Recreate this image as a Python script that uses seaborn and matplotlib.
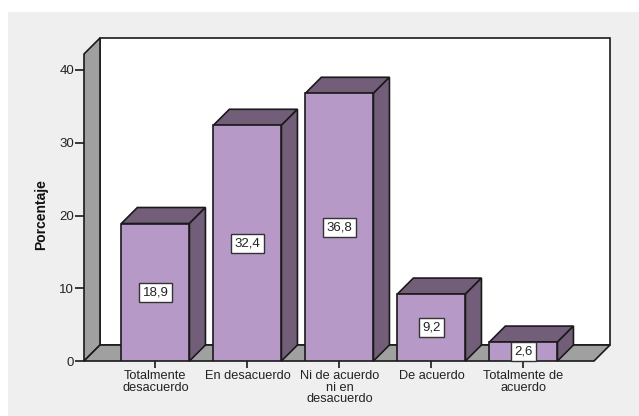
import matplotlib
matplotlib.use('Agg')
import matplotlib.pyplot as plt
from matplotlib.patches import Polygon, Rectangle
import pandas as pd
import seaborn as sns

categorias = ['Totalmente\ndesacuerdo', 'En desacuerdo', 'Ni de acuerdo\nni en\ndesacuerdo', 'De acuerdo', 'Totalmente de\nacuerdo']
porcentajes = [18.9, 32.4, 36.8, 9.2, 2.6]
etiquetas = ['18,9', '32,4', '36,8', '9,2', '2,6']
y_ticks = [0, 10, 20, 30, 40]

W, H = 639, 416
FONDO = '#efefef'
GRIS = '#a0a0a0'
LILA = '#b799c8'
OSCURO = '#735e7a'
BORDE = '#1a1a1a'

sns.set_theme(style='white')
plt.rcParams['font.family'] = ['Liberation Sans', 'DejaVu Sans']

fig = plt.figure(figsize=(W / 100, H / 100), dpi=100, facecolor='white')
# panel gris, deja un margen blanco arriba y a la izquierda
fig.add_artist(Rectangle((8 / W, 0), 1 - 8 / W, 1 - 12 / H, transform=fig.transFigure,
                         facecolor=FONDO, edgecolor='none', zorder=-1))

# ejes = plano frontal del grafico 3D, en pixeles
izq, der, arriba, abajo = 84, 594, 54, 361
ax = fig.add_axes([izq / W, 1 - abajo / H, (der - izq) / W, (abajo - arriba) / H])
ax.patch.set_alpha(0)

df = pd.DataFrame({'cat': categorias, 'pct': porcentajes})
sns.barplot(data=df, x='cat', y='pct', color=LILA, saturation=1, width=0.74,
            edgecolor=BORDE, linewidth=1.2, zorder=5, ax=ax)

px_x = 92.0
px_y = 7.275
centro = 155.4
ax.set_xlim(-(centro - izq) / px_x, (der - centro) / px_x)
ax.set_ylim(0, (abajo - arriba) / px_y)
x0, x1 = ax.get_xlim()
y1 = ax.get_ylim()[1]
dx, dy = 16 / px_x, 16 / px_y


def poly(puntos, color, z, lw=1.2):
    ax.add_patch(Polygon(puntos, closed=True, facecolor=color, edgecolor=BORDE,
                         linewidth=lw, zorder=z, clip_on=False, joinstyle='miter'))


# paredes
poly([(x0 + dx, dy), (x1 + dx, dy), (x1 + dx, y1 + dy), (x0 + dx, y1 + dy)], 'white', 1)
poly([(x0, 0), (x0 + dx, dy), (x0 + dx, y1 + dy), (x0, y1)], GRIS, 2)
poly([(x0, 0), (x1, 0), (x1 + dx, dy), (x0 + dx, dy)], GRIS, 2)

# lados de cada barra, de izquierda a derecha
for i, bar in enumerate(ax.patches[:len(porcentajes)]):
    a, b = bar.get_x(), bar.get_x() + bar.get_width()
    h = bar.get_height()
    z = 3 + i * 0.1
    poly([(a, h), (b, h), (b + dx, h + dy), (a + dx, h + dy)], OSCURO, z)
    poly([(b, 0), (b + dx, dy), (b + dx, h + dy), (b, h)], OSCURO, z)
    bar.set_zorder(z + 0.05)
    ax.text(i, h / 2, etiquetas[i], ha='center', va='center', fontsize=9.5, color='#222222', zorder=8,
            bbox=dict(boxstyle='square,pad=0.27', facecolor='white', edgecolor='#333333', linewidth=1))

for lado in ['top', 'right', 'bottom', 'left']:
    ax.spines[lado].set_visible(False)

ax.set_yticks(y_ticks)
ax.set_xticks(range(len(categorias)))
ax.set_xticklabels(categorias, fontsize=9.2, color='#222222', linespacing=0.95)
ax.tick_params(axis='y', left=True, length=6.5, width=1.2, color=BORDE, labelsize=9.5, labelcolor='#222222', pad=0.5)
ax.tick_params(axis='x', bottom=True, length=5, width=1.2, color=BORDE, pad=1.5)
ax.set_xlabel('')
ax.set_ylabel('')
fig.text(41 / W, 1 - 215 / H, 'Porcentaje', rotation=90, ha='center', va='center',
         fontsize=10, fontweight='bold', color='#111111')

fig.savefig('out.png', dpi=100, facecolor='white')
